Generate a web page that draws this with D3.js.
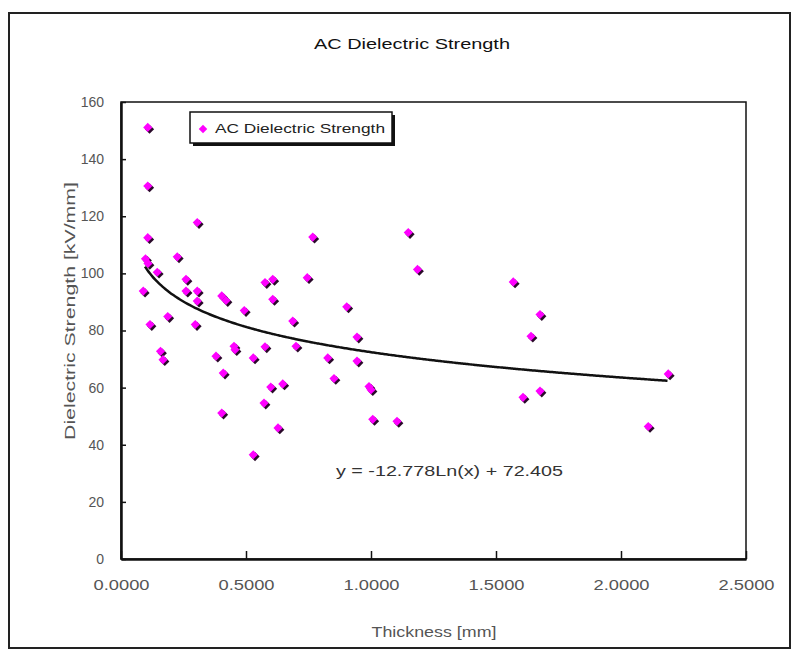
<!DOCTYPE html>
<html>
<head>
<meta charset="utf-8">
<script src="https://cdn.jsdelivr.net/npm/d3@7"></script>
<style>
  body { margin: 0; background: #fff; }
  text { font-family: "Liberation Sans", Arial, sans-serif; }
</style>
</head>
<body>
<div id="chart"></div>
<script>
// thickness [mm] of each sample
const thickness = [
  0.107, 0.107, 0.107, 0.098, 0.108, 0.089, 0.145, 0.116, 0.158, 0.168,
  0.187, 0.225, 0.260, 0.260, 0.305, 0.305, 0.305, 0.297, 0.403, 0.420,
  0.380, 0.409, 0.403, 0.452, 0.456, 0.493, 0.529, 0.529, 0.576, 0.607,
  0.607, 0.576, 0.599, 0.572, 0.647, 0.628, 0.687, 0.700, 0.745, 0.767,
  0.827, 0.852, 0.903, 0.944, 0.944, 1.000, 0.992, 1.007, 1.104, 1.149,
  1.186, 1.569, 1.676, 1.640, 1.608, 1.676, 2.109, 2.189
];
// AC dielectric strength [kV/mm]
const strength = [
  151.1, 130.6, 112.5, 105.1, 103.5, 93.8, 100.4, 82.1, 72.7, 69.8,
  84.9, 105.8, 97.9, 93.8, 117.8, 93.8, 90.3, 82.1, 92.1, 90.5,
  71.0, 65.1, 51.1, 74.5, 73.3, 87.0, 70.4, 36.5, 96.8, 97.9,
  90.9, 74.3, 60.2, 54.6, 61.3, 45.9, 83.3, 74.5, 98.5, 112.7,
  70.4, 63.2, 88.3, 77.7, 69.3, 59.3, 60.4, 48.9, 48.2, 114.3,
  101.4, 97.0, 85.6, 78.0, 56.6, 58.8, 46.4, 64.8
];
const xTicks = [0, 0.5, 1.0, 1.5, 2.0, 2.5];
const yTicks = [0, 20, 40, 60, 80, 100, 120, 140, 160];
// log trendline as printed on the chart
const trendA = -12.778, trendB = 72.405;
const trendRange = [0.096, 2.19];

const W = 800, H = 654;
const plotL = 121, plotR = 746, plotT = 102, plotB = 559;

const svg = d3.select('#chart').append('svg')
  .attr('width', W)
  .attr('height', H);

// outer chart frame
svg.append('rect')
  .attr('x', 9).attr('y', 13)
  .attr('width', 781).attr('height', 635)
  .attr('fill', '#fff')
  .attr('stroke', '#222')
  .attr('stroke-width', 2);

svg.append('text')
  .attr('x', 412).attr('y', 49)
  .attr('text-anchor', 'middle')
  .attr('font-size', 15)
  .attr('textLength', 196)
  .attr('lengthAdjust', 'spacingAndGlyphs')
  .attr('fill', '#111')
  .text('AC Dielectric Strength');

const x = d3.scaleLinear().domain([0, 2.5]).range([plotL, plotR]);
const y = d3.scaleLinear().domain([0, 160]).range([plotB, plotT]);

// plot area box
svg.append('rect')
  .attr('x', plotL).attr('y', plotT)
  .attr('width', plotR - plotL).attr('height', plotB - plotT)
  .attr('fill', '#fff')
  .attr('stroke', '#111')
  .attr('stroke-width', 1.5);

const xAxis = svg.append('g')
  .attr('transform', `translate(0,${plotB})`)
  .call(d3.axisBottom(x).tickValues(xTicks).tickSizeInner(-8).tickSizeOuter(0).tickFormat(d3.format('.4f')));
xAxis.select('.domain').attr('stroke', '#111').attr('stroke-width', 2.5);
xAxis.selectAll('.tick line').attr('stroke', '#111').attr('stroke-width', 1.5);
xAxis.selectAll('.tick text')
  .attr('y', 21)
  .attr('font-size', 14)
  .attr('fill', '#555')
  .attr('textLength', 56)
  .attr('lengthAdjust', 'spacingAndGlyphs');

const yAxis = svg.append('g')
  .attr('transform', `translate(${plotL},0)`)
  .call(d3.axisLeft(y).tickValues(yTicks).tickSizeInner(-5).tickSizeOuter(0));
yAxis.select('.domain').attr('stroke', '#111').attr('stroke-width', 2.5);
yAxis.selectAll('.tick line').attr('stroke', '#111').attr('stroke-width', 1.5);
yAxis.selectAll('.tick text')
  .attr('x', -17)
  .attr('font-size', 14)
  .attr('fill', '#555');
svg.selectAll('.tick text').attr('font-family', '"Liberation Sans", Arial, sans-serif');

svg.append('text')
  .attr('x', 434).attr('y', 637)
  .attr('text-anchor', 'middle')
  .attr('font-size', 14)
  .attr('textLength', 125)
  .attr('lengthAdjust', 'spacingAndGlyphs')
  .attr('fill', '#555')
  .text('Thickness [mm]');

svg.append('text')
  .attr('transform', 'translate(75,311) rotate(-90)')
  .attr('text-anchor', 'middle')
  .attr('font-size', 14)
  .attr('textLength', 258)
  .attr('lengthAdjust', 'spacingAndGlyphs')
  .attr('fill', '#555')
  .text('Dielectric Strength [kV/mm]');

// trendline
const trendX = d3.range(trendRange[0], trendRange[1] + 0.001, 0.01);
const line = d3.line()
  .x(d => x(d))
  .y(d => y(trendA * Math.log(d) + trendB))
  .curve(d3.curveMonotoneX);
svg.append('path')
  .datum(trendX)
  .attr('d', line)
  .attr('fill', 'none')
  .attr('stroke', '#111')
  .attr('stroke-width', 2.5);

// markers: dark shadow then magenta diamond (rotated square)
const pts = thickness.map((t, i) => ({ t, s: strength[i] }));
const diamond = d3.symbol().type(d3.symbolSquare).size(42);
svg.append('g').selectAll('path')
  .data(pts).join('path')
  .attr('d', diamond)
  .attr('transform', d => `translate(${x(d.t) + 1.8},${y(d.s) + 1.8}) rotate(45)`)
  .attr('fill', '#2a0a2a');
svg.append('g').selectAll('path')
  .data(pts).join('path')
  .attr('d', diamond)
  .attr('transform', d => `translate(${x(d.t)},${y(d.s)}) rotate(45)`)
  .attr('fill', '#ff00ff');

svg.append('text')
  .attr('x', 336).attr('y', 476)
  .attr('font-size', 14)
  .attr('textLength', 227)
  .attr('lengthAdjust', 'spacingAndGlyphs')
  .attr('fill', '#333')
  .text('y = -12.778Ln(x) + 72.405');

// legend
const legend = svg.append('g');
legend.append('rect')
  .attr('x', 193).attr('y', 115)
  .attr('width', 202).attr('height', 31)
  .attr('fill', '#111');
legend.append('rect')
  .attr('x', 190).attr('y', 112)
  .attr('width', 202).attr('height', 31)
  .attr('fill', '#fff')
  .attr('stroke', '#111')
  .attr('stroke-width', 1.5);
legend.append('path')
  .attr('d', d3.symbol().type(d3.symbolSquare).size(36))
  .attr('transform', 'translate(203,129) rotate(45)')
  .attr('fill', '#ff00ff');
legend.append('text')
  .attr('x', 215).attr('y', 133)
  .attr('font-size', 13)
  .attr('textLength', 170)
  .attr('lengthAdjust', 'spacingAndGlyphs')
  .attr('fill', '#222')
  .text('AC Dielectric Strength');
</script>
</body>
</html>
